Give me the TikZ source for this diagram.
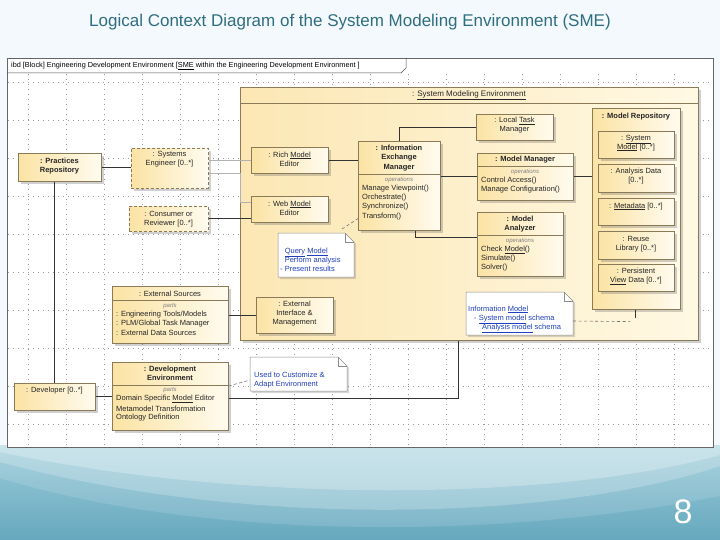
\documentclass[tikz,border=0pt]{standalone}
\usepackage{fontspec}
\setmainfont{Liberation Sans}
\usetikzlibrary{shadows,calc}
\definecolor{bgtop}{HTML}{F3F9FC}
\definecolor{tealA}{HTML}{9CCCDA}
\definecolor{tealB}{HTML}{66A8BE}
\definecolor{titlec}{HTML}{2F6E80}
\definecolor{bx1}{HTML}{FBE3A4}
\definecolor{bx2}{HTML}{FFFBEF}
\definecolor{big1}{HTML}{FCE7B4}
\definecolor{big2}{HTML}{FFF8E3}
\definecolor{bxline}{HTML}{8A7A58}
\definecolor{linkc}{HTML}{1F3FBF}
\newcommand\ubox[6][]{\node[box,minimum width={(#5-#3)*1pt},minimum height={(#6-#4)*1pt},#1] (#2) at (#3,#4) {};}
\newcommand\unote[5]{%
  \draw[notebox] (#2,#3) -- (#4-9,#3) -- (#4,#3+9) -- (#4,#5) -- (#2,#5) -- cycle;
  \draw[notefold] (#4-9,#3) -- (#4-9,#3+9) -- (#4,#3+9);
  \coordinate (#1) at (#2,#3);}
\begin{document}
\begin{tikzpicture}[x=1pt,y=-1pt,
  txt/.style={font=\fontsize{7.5}{9}\selectfont, align=center, inner sep=0pt, text=black!85},
  btxt/.style={txt, font=\fontsize{7.5}{9.5}\selectfont\bfseries},
  opst/.style={font=\fontsize{6}{7}\selectfont\itshape, inner sep=0pt, text=black!50},
  ltxt/.style={font=\fontsize{7.5}{9}\selectfont, anchor=west, inner sep=0pt, text=black!85},
  box/.style={draw=bxline, line width=0.6pt, left color=bx1, right color=bx2, anchor=north west, inner sep=0pt,
    drop shadow={shadow xshift=2.5pt, shadow yshift=-2.5pt, opacity=0.3, fill=black!60}},
  dbox/.style={dash pattern=on 3pt off 2pt},
  notebox/.style={draw=black!45, line width=0.5pt, fill=white,
    drop shadow={shadow xshift=2pt, shadow yshift=-2pt, opacity=0.25, fill=black!60}},
  notefold/.style={draw=black!45, line width=0.5pt},
  ntxt/.style={font=\fontsize{7.5}{9}\selectfont, align=left, anchor=north west, inner sep=0pt, text=linkc},
  conn/.style={draw=black!80, line width=0.7pt},
  lconn/.style={draw=black!30, line width=0.7pt},
  anch/.style={draw=black!55, line width=0.6pt, dash pattern=on 3pt off 2.5pt},
  sep/.style={draw=bxline, line width=0.4pt},
]
\useasboundingbox (0,0) rectangle (720,540);
% slide background
\fill[bgtop] (0,0) rectangle (720,540);
\shade[top color=tealA, bottom color=tealB] (0,445) rectangle (720,540);
\fill[white,opacity=0.3] (0,445) -- (720,445) -- (720,466) .. controls (560,520) and (250,530) .. (0,462) -- cycle;
\fill[white,opacity=0.25] (0,445) -- (720,445) -- (720,455) .. controls (560,500) and (250,505) .. (0,452) -- cycle;
\fill[white,opacity=0.12] (0,478) .. controls (200,540) and (500,540) .. (720,496) -- (720,466) .. controls (560,520) and (250,530) .. (0,462) -- cycle;
\node[font=\fontsize{17}{19}\selectfont, text=titlec] (title) at (350,22) {Logical Context Diagram of the System Modeling Environment (SME)};
\node[font=\fontsize{34}{36}\selectfont, text=white] (pg) at (683,512) {8};

% diagram frame
\draw[black!60, fill=white, line width=0.6pt] (7,58) rectangle (713,447);
\begin{scope}
  \clip (8,74) rectangle (712,446);
  \foreach \x in {28,66,...,710} \draw[black!40, line width=0.5pt, dash pattern=on 0.6pt off 4.4pt] (\x,74) -- (\x,446);
  \foreach \y in {82,120,...,446} \draw[black!40, line width=0.5pt, dash pattern=on 0.6pt off 4.4pt] (8,\y) -- (712,\y);
\end{scope}
\draw[black!70, line width=0.5pt] (7,73) -- (401,73) -- (406,68) -- (406,58);
\node[font=\fontsize{7.3}{8}\selectfont, anchor=west, inner sep=0pt] (tab) at (11,66) {ibd [Block] Engineering Development Environment [\underline{SME} within the Engineering Development Environment ]};

% System Modeling Environment
\ubox[left color=big1,right color=big2]{sme}{240}{87}{698}{340}
\draw[sep] (sme.north west |- 0,103) -- (sme.north east |- 0,103);
\node[txt, font=\fontsize{8}{9}\selectfont] (smet) at (469,95.5) {: \underline{System Modeling Environment}};

% Local Task Manager
\ubox{ltm}{476}{114}{553}{140}
\node[txt] (ltmt) at (514.5,125.5) {: Local \underline{Task}\\Manager};

% Model Manager
\ubox{mm}{477}{153}{573}{200}
\node[btxt] (mmt) at (525,160) {: Model Manager};
\draw[sep] (mm.west |- 0,166) -- (mm.east |- 0,166);
\node[opst] (mmo) at (525,172) {operations};
\node[ltxt] (mm1) at (481,181) {Control Access()};
\node[ltxt] (mm2) at (481,190) {Manage Configuration()};

% Model Analyzer
\ubox{ma}{477}{212}{563}{276}
\node[btxt] (mat) at (520,224) {: Model\\Analyzer};
\draw[sep] (ma.west |- 0,235) -- (ma.east |- 0,235);
\node[opst] (mao) at (520,240.5) {operations};
\node[ltxt] (ma1) at (481,250) {Check \underline{Model}()};
\node[ltxt] (ma2) at (481,259) {Simulate()};
\node[ltxt] (ma3) at (481,268) {Solver()};

% Information Exchange Manager
\ubox{iem}{358}{141}{440}{230}
\node[btxt] (iemt) at (399,158) {: Information\\Exchange\\Manager};
\draw[sep] (iem.west |- 0,174) -- (iem.east |- 0,174);
\node[opst] (iemo) at (399,180) {operations};
\node[ltxt] (iem1) at (362,189) {Manage Viewpoint()};
\node[ltxt] (iem2) at (362,198) {Orchestrate()};
\node[ltxt] (iem3) at (362,207) {Synchronize()};
\node[ltxt] (iem4) at (362,216.5) {Transform()};

% Editors
\ubox{rme}{251}{147}{328}{173}
\node[txt] (rmet) at (289.5,159) {: Rich \underline{Model}\\Editor};
\ubox{wme}{251}{196}{328}{222}
\node[txt] (wmet) at (289.5,208) {: Web \underline{Model}\\Editor};

% Query note
\unote{qn}{278}{233}{354}{277}
\node[ntxt] (qnt) at (280,248) {\phantom{- }\underline{Query} \underline{Model}\\\phantom{- }Perform analysis\\- Present results};

% External Interface & Management
\ubox{eim}{256}{297}{333}{333}
\node[txt] (eimt) at (294.5,313.5) {: External\\Interface \&\\Management};

% Model Repository
\ubox{mr}{592}{108}{680}{309}
\node[btxt] (mrt) at (636,117) {: Model Repository};
\ubox{sm}{598}{131}{674}{158}
\node[txt] (smt) at (636,143) {: \underline{System}\\\underline{Model} [0..*]};
\ubox{ad}{598}{164}{674}{192}
\node[txt] (adt) at (636,176.5) {: Analysis Data\\{}[0..*]};
\ubox{md}{598}{198}{674}{225}
\node[txt] (mdt) at (636,206.5) {: \underline{Metadata} [0..*]};
\ubox{rl}{598}{231}{674}{259}
\node[txt] (rlt) at (636,244) {: Reuse\\Library [0..*]};
\ubox{pv}{598}{264}{674}{291}
\node[txt] (pvt) at (636,276.5) {: Persistent\\\underline{View} Data [0..*]};

% Information model note
\unote{imn}{466}{292}{573}{335}
\node[ntxt] (imnt) at (468,305.5) {Information \underline{Model}\\\hspace*{6pt}- \underline{System model} schema\\\hspace*{14pt}\underline{Analysis model} schema};

% Left side actors
\ubox{pr}{18}{153}{101}{181}
\node[btxt] (prt) at (59.5,166) {: Practices\\Repository};
\ubox[dbox]{se}{131}{148}{208}{188}
\node[txt] (set) at (169.5,159.5) {: Systems\\Engineer [0..*]};
\ubox[dbox]{cr}{129}{206}{208}{231}
\node[txt] (crt) at (168.5,219) {: Consumer or\\Reviewer [0..*]};

% External Sources
\ubox{es}{112}{286}{228}{343}
\node[txt] (est) at (170,294) {: External Sources};
\draw[sep] (es.west |- 0,300) -- (es.east |- 0,300);
\node[opst] (eso) at (170,306) {parts};
\node[ltxt] (es1) at (116,315) {: Engineering Tools/Models};
\node[ltxt] (es2) at (116,324) {: PLM/Global Task Manager};
\node[ltxt] (es3) at (116,333) {: External Data Sources};

% Development Environment
\ubox{de}{112}{362}{228}{430}
\node[btxt] (det) at (170,373.5) {: Development\\Environment};
\draw[sep] (de.west |- 0,385) -- (de.east |- 0,385);
\node[opst] (deo) at (170,390) {parts};
\node[ltxt] (de1) at (116,399) {Domain Specific \underline{Model} Editor};
\node[ltxt] (de2) at (116,409) {Metamodel Transformation};
\node[ltxt] (de3) at (116,418) {Ontology Definition};

% note Used to customize
\unote{un}{250}{357}{347}{391}
\node[ntxt] (unt) at (254,371.5) {Used to Customize \&\\Adapt Environment};

% Developer
\ubox{dev}{14}{383}{95}{410}
\node[txt] (devt) at (54.5,391) {: Developer [0..*]};

% connectors
\draw[conn] (pr.east) -- (pr.east -| se.west);
\draw[conn] (dev.north |- pr.south) -- (dev.north);
\draw[lconn] (se.east |- rme.west) -- (rme.west);
\draw[lconn] ($(se.south east)+(0,-15)$) -| ($(wme.north west)+(-11,6)$) -- ($(wme.north west)+(0,6)$);
\draw[conn] (cr.east) -- (cr.east -| wme.west);
\draw[conn] (rme.east) -- (rme.east -| iem.west);
\draw[conn] (mm.west -| iem.east) -- (mm.west);
\draw[conn] (iem.north) |- (ltm.west);
\draw[conn] ($(iem.south)+(16,0)$) |- ($(ma.north west)+(0,25)$);
\draw[conn] (mm.east) -- (mm.east -| mr.west);
\draw[conn] (eim.west -| es.east) -- (eim.west);
\draw[conn] (dev.east) -- (dev.east -| de.west);
\draw[conn] ($(de.north east)+(0,36)$) -| ($(sme.south west)+(218,0)$);
\coordinate (mrb) at ($(mr.south)+(-1,8)$);
\draw[conn] (mr.south -| mrb) -- (mrb);
\draw[anch] ($(imn)+(107,29)$) -- ($(mrb)+(-5,4)$);
\draw[anch] ($(qn)+(64,-4)$) -- ($(iem.south west)+(0,-12)$);
\draw[anch] ($(de.north east)+(0,24)$) -- ($(un)+(0,23)$);
\end{tikzpicture}
\end{document}
